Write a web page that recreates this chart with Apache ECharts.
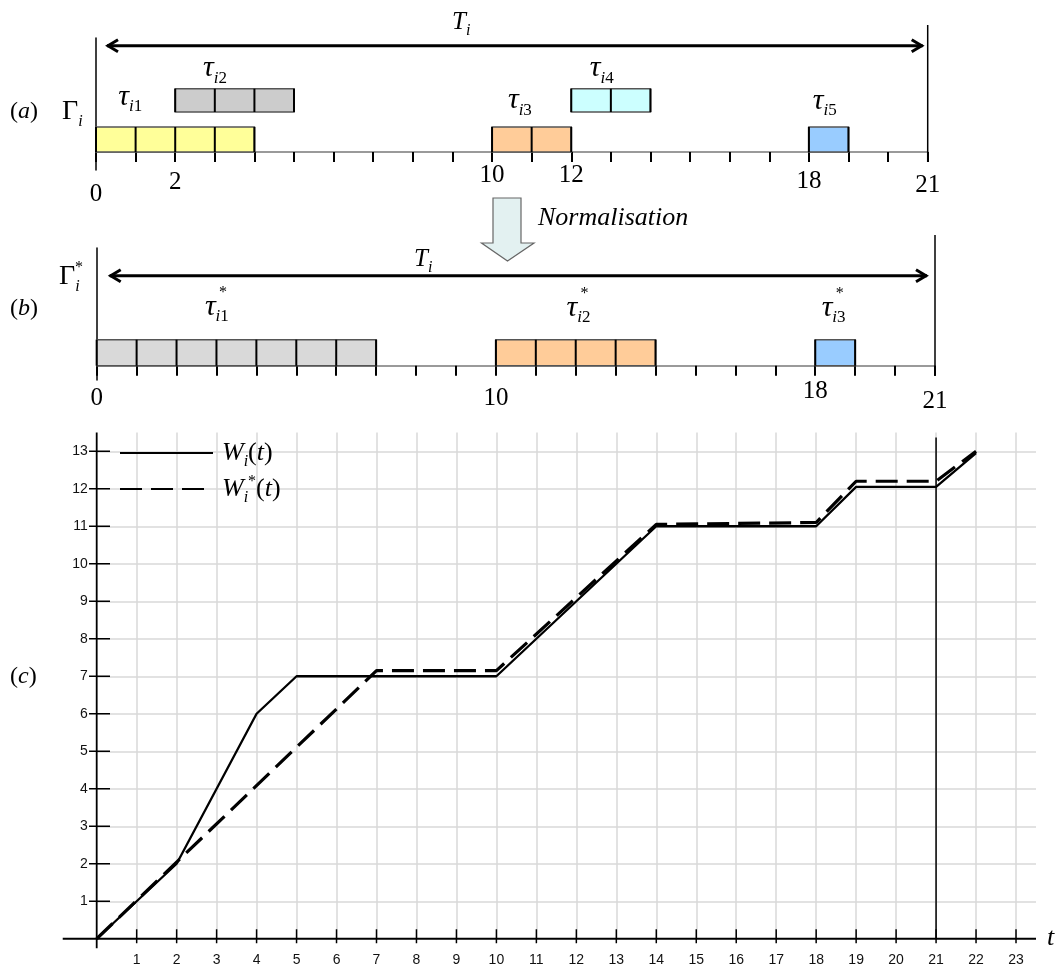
<!DOCTYPE html>
<html>
<head>
<meta charset="utf-8">
<script src="https://cdn.jsdelivr.net/npm/echarts@6/dist/echarts.min.js"></script>
<style>
  html, body { margin: 0; background: #fff; }
  #chart { width: 1059px; height: 970px; }
</style>
</head>
<body>
<div id="chart"></div>
<script>
// ---- data ----
const period = 21;

// (a) original task set
const tasksA = ['i1', 'i2', 'i3', 'i4', 'i5'];
const startA = [0, 2, 10, 12, 18];
const lengthA = [4, 3, 2, 2, 1];
const rowA = [0, 1, 0, 1, 0];
const tickLabelsA = [0, 2, 10, 12, 18, 21];

// (b) normalised task set
const tasksB = ['i1', 'i2', 'i3'];
const startB = [0, 10, 18];
const lengthB = [7, 4, 1];
const tickLabelsB = [0, 10, 18, 21];

// (c) workload curves
const tW = [0, 2, 4, 5, 10, 14, 18, 19, 21, 22];
const W = [0, 2, 6, 7, 7, 11, 11, 12.05, 12.05, 12.95];
const tWstar = [0, 7, 10, 14, 18, 19, 21, 22];
const Wstar = [0, 7.15, 7.15, 11.05, 11.1, 12.2, 12.2, 13];
const xTicksC = [1, 2, 3, 4, 5, 6, 7, 8, 9, 10, 11, 12, 13, 14, 15, 16, 17, 18, 19, 20, 21, 22, 23];
const yTicksC = [1, 2, 3, 4, 5, 6, 7, 8, 9, 10, 11, 12, 13];

// ---- layout / style ----
const serif = 'Liberation Serif';
const colorsA = ['#ffff99', '#cccccc', '#ffcc99', '#ccffff', '#99ccff'];
const colorsB = ['#d9d9d9', '#ffcc99', '#99ccff'];
const rowsA = [[0, 1], [1.6, 2.53]];
const rowsB = [[0, 1]];
const labelPosA = [[0.56, 2.2], [2.7, 3.35], [10.4, 2.06], [12.47, 3.35], [18.1, 2.04]];
const labelPosB = [[2.71, 2.26], [11.77, 2.22], [18.16, 2.22]];
const labelDropA = { 0: 39, 2: 15, 10: 1, 12: 1, 18: 13, 21: 21 };
const labelDropB = { 0: 20, 10: 20, 18: 6, 21: 26 };

const tauRich = {
  t: { fontFamily: serif, fontSize: 30, fontStyle: 'italic', lineHeight: 30, color: '#000' },
  si: { fontFamily: serif, fontSize: 17, fontStyle: 'italic', lineHeight: 17, padding: [20, 0, 0, 0], color: '#000' },
  sn: { fontFamily: serif, fontSize: 17, lineHeight: 17, padding: [20, 0, 0, 0], color: '#000' }
};

function tickRich(drops) {
  const r = {};
  Object.keys(drops).forEach(k => {
    r['d' + k] = { fontFamily: serif, fontSize: 25, lineHeight: 25, color: '#000', padding: [drops[k], 0, 0, 0] };
  });
  return r;
}

function boxRenderer(colors, rows, names, labelPos, starred) {
  return function (params, api) {
    const s = api.value(0), e = api.value(1), r = api.value(2);
    const i = params.dataIndex;
    const yb = rows[r][0], yt = rows[r][1];
    const p0 = api.coord([s, yt]), p1 = api.coord([e, yb]);
    const children = [{
      type: 'rect',
      shape: { x: p0[0], y: p0[1], width: p1[0] - p0[0], height: p1[1] - p0[1] },
      style: { fill: colors[i], stroke: '#555', lineWidth: 1.5 }
    }];
    for (let k = s; k <= e; k++) {
      const a = api.coord([k, yb]), b = api.coord([k, yt]);
      children.push({ type: 'line', shape: { x1: a[0], y1: a[1], x2: b[0], y2: b[1] },
        style: { stroke: '#000', lineWidth: 2 } });
    }
    const lp = api.coord(labelPos[i]);
    const nm = names[i];
    children.push({
      type: 'text', x: lp[0], y: lp[1],
      style: { text: '{t|τ}{si|' + nm[0] + '}{sn|' + nm.slice(1) + '}', rich: tauRich, align: 'left', verticalAlign: 'middle' }
    });
    if (starred) {
      children.push({ type: 'text', x: lp[0] + 14, y: lp[1] - 14,
        style: { text: '*', fontFamily: serif, fontSize: 16, fill: '#000', align: 'left', verticalAlign: 'middle' } });
    }
    return { type: 'group', children };
  };
}

function spanRenderer(level, insetL, insetR, top, bottom) {
  return function (params, api) {
    const a = api.coord([api.value(0), level]);
    const b = api.coord([api.value(1), level]);
    const x0 = a[0] + insetL, x1 = b[0] - insetR, y = a[1];
    const vt = api.coord([api.value(1), top]), vb = api.coord([api.value(1), bottom]);
    const st = { stroke: '#000', lineWidth: 3, fill: null, lineJoin: 'miter' };
    return {
      type: 'group',
      children: [
        { type: 'line', shape: { x1: x0, y1: y, x2: x1, y2: y }, style: st },
        { type: 'polyline', shape: { points: [[x0 + 11, y - 6], [x0 + 1, y], [x0 + 11, y + 6]] }, style: st },
        { type: 'polyline', shape: { points: [[x1 - 11, y - 6], [x1 - 1, y], [x1 - 11, y + 6]] }, style: st },
        { type: 'line', shape: { x1: vt[0], y1: vt[1], x2: vb[0], y2: vb[1] }, style: { stroke: '#000', lineWidth: 1.5 } }
      ]
    };
  };
}

const topXAxis = (grid, labels, drops, margin) => ({
  type: 'value', gridIndex: grid, min: 0, max: period, interval: 1,
  axisLine: { onZero: true, lineStyle: { color: '#7a7a7a', width: 1.5 } },
  axisTick: { length: 10, lineStyle: { color: '#000', width: 2 } },
  splitLine: { show: false },
  axisLabel: {
    margin: margin,
    formatter: v => labels.indexOf(v) >= 0 ? '{d' + v + '|' + v + '}' : '',
    rich: tickRich(drops)
  }
});
const topYAxis = (grid, min, max) => ({
  type: 'value', gridIndex: grid, min, max,
  axisLine: { show: true, onZero: true, lineStyle: { color: '#000', width: 1.5 } },
  axisTick: { show: false }, axisLabel: { show: false }, splitLine: { show: false }
});

const sansLabel = { fontFamily: 'Liberation Sans', fontSize: 14, color: '#111' };
const gridLine = { show: true, showMinLine: false, showMaxLine: false, lineStyle: { color: '#d9d9d9', width: 1.5 } };

const legendRich = {
  w: { fontFamily: serif, fontSize: 26, fontStyle: 'italic', lineHeight: 26, color: '#000', padding: [0, 0, 0, 4] },
  s: { fontFamily: serif, fontSize: 16, fontStyle: 'italic', lineHeight: 16, padding: [18, 0, 0, 0], color: '#000' },
  u: { fontFamily: serif, fontSize: 16, lineHeight: 16, padding: [0, 0, 14, 0], color: '#000' },
  p: { fontFamily: serif, fontSize: 26, lineHeight: 26, color: '#000' },
  q: { fontFamily: serif, fontSize: 26, fontStyle: 'italic', lineHeight: 26, color: '#000' }
};

const chart = echarts.init(document.getElementById('chart'));
chart.setOption({
  animation: false,
  backgroundColor: '#fff',
  grid: [
    { left: 96, top: 38, width: 831.7, height: 132 },
    { left: 96.7, top: 247.9, width: 838.3, height: 132.1 },
    { left: 96.7, top: 432.5, width: 939.3, height: 506.25 }
  ],
  xAxis: [
    topXAxis(0, tickLabelsA, labelDropA, -8),
    topXAxis(1, tickLabelsB, labelDropB, -4),
    {
      type: 'value', gridIndex: 2, min: 0, max: 23.5, interval: 1,
      axisLine: { show: false }, axisTick: { show: false },
      splitLine: gridLine,
      axisLabel: Object.assign({ margin: 14, formatter: v => (v > 0 && Number.isInteger(v)) ? String(v) : '' }, sansLabel)
    }
  ],
  yAxis: [
    topYAxis(0, -0.72, 4.56),
    topYAxis(1, -0.55, 4.53),
    {
      type: 'value', gridIndex: 2, min: 0, max: 13.5, interval: 1,
      axisLine: { show: false }, axisTick: { show: false },
      splitLine: gridLine,
      axisLabel: Object.assign({ margin: 9, formatter: v => (v > 0 && Number.isInteger(v)) ? String(v) : '' }, sansLabel)
    }
  ],
  legend: {
    orient: 'vertical', left: 114, top: 431,
    itemWidth: 93, itemHeight: 12, itemGap: 2,
    selectedMode: false,
    itemStyle: { opacity: 0 },
    data: ['W', 'Wstar'],
    formatter: n => n === 'W'
      ? '{w|W}{s|i}{p|(}{q|t}{p|)}'
      : '{w|W}{s|i}{u|*}{p|(}{q|t}{p|)}',
    textStyle: { rich: legendRich }
  },
  graphic: [
    { type: 'text', x: 10, y: 112, style: { text: '{n|(}{i|a}{n|)}', align: 'left', verticalAlign: 'middle',
      rich: { n: { fontFamily: serif, fontSize: 24 }, i: { fontFamily: serif, fontSize: 24, fontStyle: 'italic' } } } },
    { type: 'text', x: 62, y: 112, style: { text: '{G|Γ}{s|i}', align: 'left', verticalAlign: 'middle',
      rich: { G: { fontFamily: serif, fontSize: 28, lineHeight: 28 }, s: { fontFamily: serif, fontSize: 16, fontStyle: 'italic', lineHeight: 16, padding: [20, 0, 0, 0] } } } },
    { type: 'text', x: 452, y: 22, style: { text: '{T|T}{s|i}', align: 'left', verticalAlign: 'middle',
      rich: { T: { fontFamily: serif, fontSize: 25, fontStyle: 'italic', lineHeight: 25 }, s: { fontFamily: serif, fontSize: 16, fontStyle: 'italic', lineHeight: 16, padding: [18, 0, 0, 0] } } } },
    { type: 'polygon', shape: { points: [[493, 198], [521, 198], [521, 243], [534, 243], [507.5, 261], [481.5, 243], [493, 243]] },
      style: { fill: '#e3f1f1', stroke: '#666', lineWidth: 1.2 } },
    { type: 'text', x: 538, y: 218, style: { text: 'Normalisation', fontFamily: serif, fontSize: 26, fontStyle: 'italic', fill: '#000', align: 'left', verticalAlign: 'middle' } },
    { type: 'text', x: 10, y: 309, style: { text: '{n|(}{i|b}{n|)}', align: 'left', verticalAlign: 'middle',
      rich: { n: { fontFamily: serif, fontSize: 24 }, i: { fontFamily: serif, fontSize: 24, fontStyle: 'italic' } } } },
    { type: 'text', x: 59, y: 277, style: { text: '{G|Γ}{s|i}', align: 'left', verticalAlign: 'middle',
      rich: { G: { fontFamily: serif, fontSize: 28, lineHeight: 28 }, s: { fontFamily: serif, fontSize: 16, fontStyle: 'italic', lineHeight: 16, padding: [20, 0, 0, 0] } } } },
    { type: 'text', x: 75, y: 268, style: { text: '*', fontFamily: serif, fontSize: 16, fill: '#000', align: 'left', verticalAlign: 'middle' } },
    { type: 'text', x: 414, y: 259, style: { text: '{T|T}{s|i}', align: 'left', verticalAlign: 'middle',
      rich: { T: { fontFamily: serif, fontSize: 25, fontStyle: 'italic', lineHeight: 25 }, s: { fontFamily: serif, fontSize: 16, fontStyle: 'italic', lineHeight: 16, padding: [18, 0, 0, 0] } } } },
    { type: 'text', x: 10, y: 677, style: { text: '{n|(}{i|c}{n|)}', align: 'left', verticalAlign: 'middle',
      rich: { n: { fontFamily: serif, fontSize: 24 }, i: { fontFamily: serif, fontSize: 24, fontStyle: 'italic' } } } },
    { type: 'text', x: 1047, y: 938, style: { text: 't', fontFamily: serif, fontSize: 26, fontStyle: 'italic', fill: '#000', align: 'left', verticalAlign: 'middle' } }
  ],
  series: [
    // (a) boxes
    {
      type: 'custom', xAxisIndex: 0, yAxisIndex: 0, silent: true, z: 3,
      renderItem: boxRenderer(colorsA, rowsA, tasksA, labelPosA, false),
      data: tasksA.map((n, i) => [startA[i], startA[i] + lengthA[i], rowA[i]])
    },
    {
      type: 'custom', xAxisIndex: 0, yAxisIndex: 0, silent: true, z: 3,
      renderItem: spanRenderer(4.25, 11, 5, 5.08, -0.4),
      data: [[0, period]]
    },
    // (b) boxes
    {
      type: 'custom', xAxisIndex: 1, yAxisIndex: 1, silent: true, z: 3,
      renderItem: boxRenderer(colorsB, rowsB, tasksB, labelPosB, true),
      data: tasksB.map((n, i) => [startB[i], startB[i] + lengthB[i], 0])
    },
    {
      type: 'custom', xAxisIndex: 1, yAxisIndex: 1, silent: true, z: 3,
      renderItem: spanRenderer(3.46, 13, 8, 5.03, -0.4),
      data: [[0, period]]
    },
    // (c) axes, crossing ticks and deadline line
    {
      type: 'custom', xAxisIndex: 2, yAxisIndex: 2, silent: true, z: 3,
      renderItem: (params, api) => {
        const st = { stroke: '#000', lineWidth: 1.8 };
        const xa = api.coord([-0.85, 0]), xb = api.coord([23.5, 0]);
        const ya = api.coord([0, -0.25]), yb = api.coord([0, 13.5]);
        const pa = api.coord([period, 0]), pb = api.coord([period, 13.37]);
        return { type: 'group', children: [
          { type: 'line', shape: { x1: xa[0], y1: xa[1], x2: xb[0], y2: xb[1] }, style: st },
          { type: 'line', shape: { x1: ya[0], y1: ya[1], x2: yb[0], y2: yb[1] }, style: st },
          { type: 'line', shape: { x1: pa[0], y1: pa[1], x2: pb[0], y2: pb[1] }, style: { stroke: '#000', lineWidth: 1.5 } }
        ] };
      },
      data: [[0, 0]]
    },
    {
      type: 'custom', xAxisIndex: 2, yAxisIndex: 2, silent: true, z: 3,
      renderItem: (params, api) => {
        const c = api.coord([api.value(0), 0]);
        return { type: 'line', shape: { x1: c[0], y1: c[1] - 9.5, x2: c[0], y2: c[1] + 4.5 }, style: { stroke: '#000', lineWidth: 1.5 } };
      },
      data: xTicksC.map(v => [v, 0])
    },
    {
      type: 'custom', xAxisIndex: 2, yAxisIndex: 2, silent: true, z: 3,
      renderItem: (params, api) => {
        const c = api.coord([0, api.value(1)]);
        return { type: 'line', shape: { x1: c[0] - 7.7, y1: c[1], x2: c[0] + 13.3, y2: c[1] }, style: { stroke: '#000', lineWidth: 1.5 } };
      },
      data: yTicksC.map(v => [0, v])
    },
    // (c) curves
    {
      name: 'W', type: 'line', xAxisIndex: 2, yAxisIndex: 2, z: 5,
      symbol: 'none', silent: true,
      lineStyle: { color: '#000', width: 2.3 },
      itemStyle: { color: '#000' },
      data: tW.map((t, i) => [t, W[i]])
    },
    {
      name: 'Wstar', type: 'line', xAxisIndex: 2, yAxisIndex: 2, z: 5,
      symbol: 'none', silent: true,
      lineStyle: { color: '#000', width: 3.2, type: [22, 9] },
      itemStyle: { color: '#000' },
      data: tWstar.map((t, i) => [t, Wstar[i]])
    }
  ]
});
</script>
</body>
</html>
